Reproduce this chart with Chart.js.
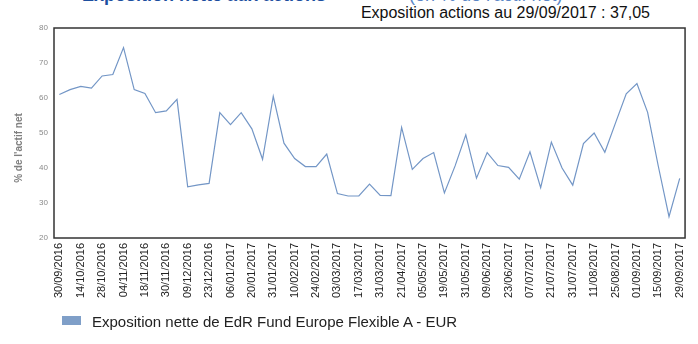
<!DOCTYPE html>
<html lang="fr">
<head>
<meta charset="utf-8">
<title>Exposition actions</title>
<script src="https://cdn.jsdelivr.net/npm/chart.js@4"></script>
<style>
  body { margin: 0; background: #fff; font-family: "Liberation Sans", Arial, sans-serif; }
  #wrap { position: relative; width: 698px; height: 344px; overflow: hidden; }
  #chart { position: absolute; left: 0; top: 0; }
  .title { position: absolute; top: -15px; left: 82px; width: 520px; font-size: 18px; line-height: 20px; white-space: nowrap; }
  .title b { color: #1d4f9f; }
  .title span { position: absolute; left: 327px; top: 0; color: #5a86c6; }
  .sub { position: absolute; top: 4px; right: 48px; font-size: 16px; line-height: 18px; color: #111; }
  .legend { position: absolute; left: 62px; top: 313px; font-size: 15px; line-height: 18px; color: #222; }
  .legend i { display: inline-block; width: 19px; height: 9px; background: #7f9fc8; margin-right: 11px; vertical-align: 2px; }
</style>
</head>
<body>
<div id="wrap">
  <div class="title"><b>Exposition nette aux actions</b><span>(en % de l'actif net)</span></div>
  <div class="sub">Exposition actions au 29/09/2017 : 37,05</div>
  <canvas id="chart" width="698" height="344"></canvas>
  <div class="legend"><i></i>Exposition nette de EdR Fund Europe Flexible A - EUR</div>
</div>
<script>
// Weekly and month-end valuation dates
const dates = [
  '30/09/2016', '07/10/2016', '14/10/2016', '21/10/2016', '28/10/2016', '31/10/2016',
  '04/11/2016', '11/11/2016', '18/11/2016', '25/11/2016', '30/11/2016', '02/12/2016',
  '09/12/2016', '16/12/2016', '23/12/2016', '30/12/2016', '06/01/2017', '13/01/2017',
  '20/01/2017', '27/01/2017', '31/01/2017', '03/02/2017', '10/02/2017', '17/02/2017',
  '24/02/2017', '28/02/2017', '03/03/2017', '10/03/2017', '17/03/2017', '24/03/2017',
  '31/03/2017', '13/04/2017', '21/04/2017', '28/04/2017', '05/05/2017', '12/05/2017',
  '19/05/2017', '26/05/2017', '31/05/2017', '02/06/2017', '09/06/2017', '16/06/2017',
  '23/06/2017', '30/06/2017', '07/07/2017', '14/07/2017', '21/07/2017', '28/07/2017',
  '31/07/2017', '04/08/2017', '11/08/2017', '18/08/2017', '25/08/2017', '31/08/2017',
  '01/09/2017', '08/09/2017', '15/09/2017', '22/09/2017', '29/09/2017'
];

// Net equity exposure, % of net assets
const exposure = [
  61.0, 62.4, 63.3, 62.8, 66.3, 66.7, 74.4, 62.4, 61.3, 55.8,
  56.3, 59.6, 34.6, 35.2, 35.6, 55.8, 52.4, 55.8, 51.2, 42.5,
  60.5, 47.1, 42.7, 40.4, 40.4, 44.0, 32.7, 32.0, 32.0, 35.4,
  32.2, 32.1, 51.6, 39.6, 42.7, 44.4, 32.9, 40.6, 49.5, 37.1,
  44.4, 40.7, 40.2, 36.8, 44.6, 34.4, 47.4, 40.0, 35.1, 47.0,
  50.0, 44.5, 52.9, 61.2, 64.1, 55.9, 40.5, 26.1, 37.05
];

const seriesName = 'Exposition nette de EdR Fund Europe Flexible A - EUR';
const yTitle = "% de l'actif net";
const yTicks = [20, 30, 40, 50, 60, 70, 80];

Chart.defaults.font.family = '"Liberation Sans", Arial, sans-serif';

// box around the plot + offset y-axis title
const framePlugin = {
  id: 'frame',
  afterDraw(chart) {
    const { ctx, chartArea: a } = chart;
    ctx.save();
    ctx.strokeStyle = '#333';
    ctx.lineWidth = 1.5;
    ctx.strokeRect(a.left, a.top, a.right - a.left, a.bottom - a.top);
    ctx.translate(19, 148);
    ctx.rotate(-Math.PI / 2);
    ctx.font = 'bold 10px "Liberation Sans", Arial, sans-serif';
    ctx.fillStyle = '#7f7f7f';
    ctx.textAlign = 'center';
    ctx.textBaseline = 'middle';
    ctx.fillText(yTitle, 0, 0);
    ctx.restore();
  }
};

new Chart(document.getElementById('chart'), {
  type: 'line',
  data: {
    labels: dates,
    datasets: [{
      label: seriesName,
      data: exposure,
      borderColor: '#7396c6',
      backgroundColor: '#7f9fc8',
      borderWidth: 1.2,
      pointRadius: 0,
      tension: 0
    }]
  },
  options: {
    responsive: false,
    animation: false,
    layout: { padding: { top: 28, right: 11, left: 0, bottom: 44 } },
    plugins: {
      legend: { display: false },
      tooltip: { enabled: false }
    },
    scales: {
      x: {
        type: 'category',
        offset: true,
        grid: { display: false, drawTicks: false },
        border: { display: false },
        afterFit(scale) { scale.height = 62; },
        ticks: {
          autoSkip: false,
          minRotation: 90,
          maxRotation: 90,
          padding: 5,
          color: '#222',
          font: { size: 11 },
          callback(value, index) { return index % 2 === 0 ? dates[index] : ''; }
        }
      },
      y: {
        min: 20,
        max: 80,
        grid: { display: false, drawTicks: false },
        border: { display: false },
        afterFit(scale) { scale.width = 54; },
        afterBuildTicks(scale) { scale.ticks = yTicks.map(v => ({ value: v })); },
        ticks: {
          padding: 6,
          color: '#8a8a8a',
          font: { size: 8 }
        }
      }
    }
  },
  plugins: [framePlugin]
});
</script>
</body>
</html>
